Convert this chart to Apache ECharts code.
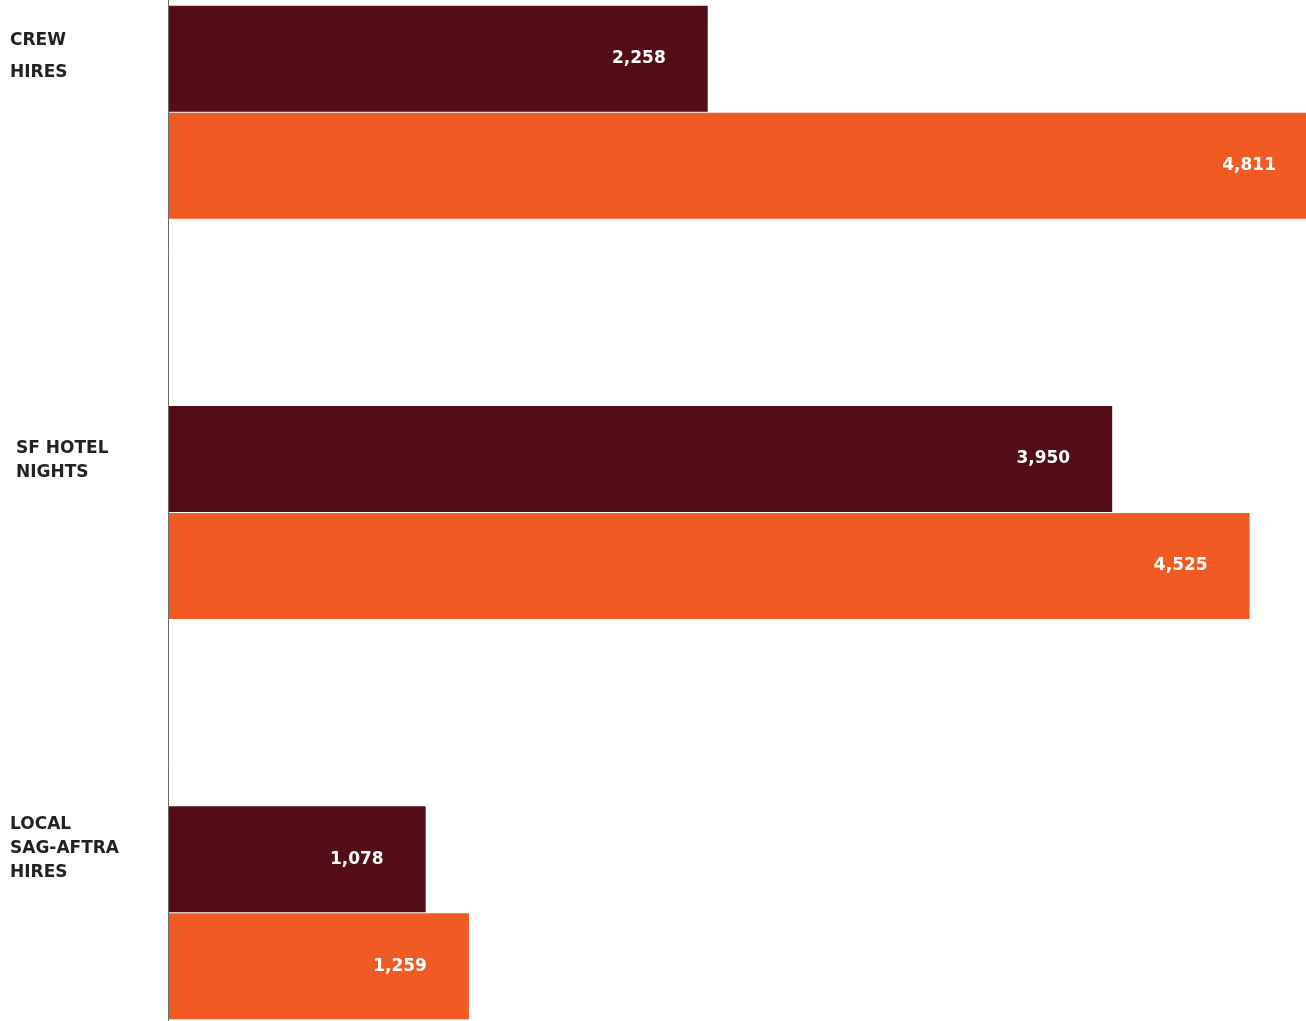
<!DOCTYPE html>
<html>
<head>
<meta charset="utf-8">
<script src="https://cdn.jsdelivr.net/npm/echarts@6/dist/echarts.min.js"></script>
<style>
  html, body { margin: 0; padding: 0; background: #ffffff; }
  #chart { width: 1306px; height: 1021px; }
</style>
</head>
<body>
<div id="chart"></div>
<script>
// Category labels (top to bottom)
const categories = ['CREW\nHIRES', 'SF HOTEL\nNIGHTS', 'LOCAL\nSAG-AFTRA\nHIRES'];
// First series (dark bars) and second series (orange bars)
const seriesA = [2258, 3950, 1078];
const seriesB = [4811, 4525, 1259];

const DARK = '#540d17';
const ORANGE = '#f05a23';
const FONT = 'DejaVu Sans';

const chart = echarts.init(document.getElementById('chart'), null, { renderer: 'canvas' });

const valueLabel = {
  show: true,
  position: 'insideRight',
  distance: 42,
  color: '#ffffff',
  fontFamily: FONT,
  fontWeight: 'bold',
  fontSize: 17,
  formatter: p => p.value.toLocaleString('en-US')
};

const base = { fontFamily: FONT, fontWeight: 'bold', fontSize: 17, color: '#222222' };

// Each name block gets its own line style; spacer lines nudge blocks up or down
function nameLabel(value, idx) {
  const lines = value.split('\n');
  if (idx === 0) {
    return lines.map(t => '{c|' + t + '}').join('\n');
  }
  if (idx === 1) {
    return ['{gapTop| }'].concat(lines.map(t => '{s|' + t + '}')).join('\n');
  }
  return lines.map(t => '{l|' + t + '}').concat(['{gapBottom| }']).join('\n');
}

chart.setOption({
  animation: false,
  backgroundColor: '#ffffff',
  grid: {
    left: 168, right: -12, top: -88, bottom: -92,
    containLabel: false,
    outerBoundsMode: 'none'
  },
  xAxis: {
    type: 'value',
    min: 0,
    max: 4811,
    show: false
  },
  yAxis: {
    type: 'category',
    data: categories,
    inverse: true,
    z: 3,
    axisLine: { show: true, lineStyle: { color: '#6a6a6a', width: 1 } },
    axisTick: { show: false },
    splitLine: { show: false },
    axisLabel: {
      margin: 158,
      align: 'left',
      verticalAlign: 'middle',
      padding: [0, 0, 112, 0],
      ...base,
      formatter: nameLabel,
      rich: {
        c: { ...base, lineHeight: 32 },
        s: { ...base, lineHeight: 24, padding: [0, 0, 0, 6] },
        l: { ...base, lineHeight: 24 },
        gapTop: { ...base, fontSize: 4, lineHeight: 8 },
        gapBottom: { ...base, fontSize: 4, lineHeight: 17 }
      }
    }
  },
  series: [
    {
      type: 'bar',
      data: seriesA,
      barWidth: 106,
      barGap: '1%',
      itemStyle: { color: DARK },
      label: valueLabel
    },
    {
      type: 'bar',
      data: seriesB,
      barWidth: 106,
      barGap: '1%',
      itemStyle: { color: ORANGE },
      label: valueLabel
    }
  ]
});
</script>
</body>
</html>
